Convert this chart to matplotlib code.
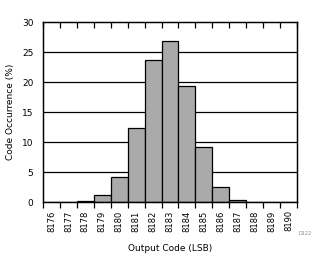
"""Code occurrence histogram: output code distribution (LSB)."""
import matplotlib
matplotlib.use("Agg")
import matplotlib.pyplot as plt  # noqa: E402
import numpy as np               # noqa: E402

codes = [8176, 8177, 8178, 8179, 8180, 8181, 8182, 8183,
         8184, 8185, 8186, 8187, 8188, 8189, 8190]
occurrence = [0.0, 0.0, 0.2, 1.1, 4.1, 12.3, 23.6, 26.9,
              19.3, 9.1, 2.45, 0.3, 0.0, 0.0, 0.0]
y_ticks = [0, 5, 10, 15, 20, 25, 30]

BAR_FILL, INK = "#aaaaaa", "#000000"

fig = plt.figure(figsize=(3.26, 2.62), dpi=100)
ax = fig.add_axes([0.132, 0.229, 0.779, 0.687])

x = np.arange(len(codes))
for yv in y_ticks[1:-1]:                       # black horizontal grid
    ax.axhline(yv, color=INK, lw=0.9, zorder=1)
ax.bar(x, occurrence, width=1.0, color=BAR_FILL, edgecolor=INK, lw=0.9, zorder=2)

ax.set_xlim(-0.5, len(codes) - 0.5)
ax.set_ylim(0, 30)
ax.set_yticks(y_ticks)
ax.set_yticklabels([str(v) for v in y_ticks], fontsize=6.5)
ax.tick_params(axis="y", length=0, pad=7)

# category labels at bar centres, tick marks at the slot boundaries
bounds = np.arange(len(codes) + 1) - 0.5
ax.set_xticks(x)
ax.set_xticklabels([str(c) for c in codes], rotation=90, fontsize=6)
ax.tick_params(axis="x", which="major", length=0, pad=6)
ax.set_xticks(bounds, minor=True)
ax.tick_params(axis="x", which="minor", length=4, width=0.9, direction="out")

top = ax.twiny()                               # inward ticks along the top edge
top.set_xlim(ax.get_xlim())
top.set_xticks(bounds)
top.tick_params(axis="x", length=4, width=0.9, direction="in",
                labeltop=False, bottom=False, top=True)

for a in (ax, top):
    for s in a.spines.values():
        s.set_linewidth(0.9)
        s.set_color(INK)

ax.set_ylabel("Code Occurrence (%)", fontsize=6.5, labelpad=5)
ax.set_xlabel("Output Code (LSB)", fontsize=6.5, labelpad=9)
fig.text(0.936, 0.108, "D122", fontsize=3.5, color="#888888", ha="center", va="center")

fig.savefig("out.png", dpi=100)
